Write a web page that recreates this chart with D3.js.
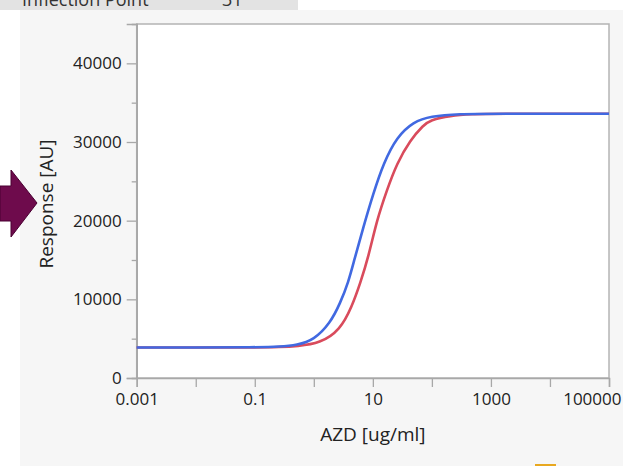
<!DOCTYPE html>
<html><head><meta charset="utf-8">
<script src="https://cdn.jsdelivr.net/npm/d3@7"></script>
<style>body{margin:0;background:#fff;}svg{display:block;font-family:"Open Sans","Noto Sans",sans-serif;}</style>
</head><body>
<svg id="c" width="623" height="466"></svg>
<script>
// Data
const doses = [0.001, 0.01, 0.1, 0.27, 0.52, 1.0, 1.89, 2.79, 3.86, 4.8, 6.93, 10.2, 15.1, 25.5, 48.8, 93.5, 300, 1000, 100000];
const blueResp = [3880, 3880, 3900, 3980, 4190, 4830, 6950, 9490, 12200, 14900, 19220, 23470, 27280, 30660, 32570, 33290, 33580, 33600, 33600];
const redDoses = [0.001, 0.01, 0.1, 0.27, 0.52, 1.28, 2.79, 4.41, 6.10, 8.43, 11.7, 17.3, 25.5, 42.9, 72.1, 93.5, 200, 500, 1000, 100000];
const redResp = [3870, 3870, 3880, 3940, 4040, 4410, 6100, 9060, 12030, 15410, 20080, 23890, 27280, 30240, 32150, 32780, 33350, 33550, 33600, 33600];
const yMajor = [0, 10000, 20000, 30000, 40000];
const yMinor = [5000, 15000, 25000, 35000];
const xTicks = [0.001, 0.01, 0.1, 1, 10, 100, 1000, 10000, 100000];
const xLabels = ["0.001", "", "0.1", "", "10", "", "1000", "", "100000"];

const svg = d3.select("#c");
// background panels
svg.append("rect").attr("x", 0).attr("y", 0).attr("width", 298).attr("height", 10).attr("fill", "#e3e3e3");
svg.append("text").attr("x", 22).attr("y", 6).attr("font-size", 18).attr("fill", "#333").text("Inflection Point");
svg.append("text").attr("x", 222).attr("y", 6).attr("font-size", 18).attr("fill", "#333").text("31");
svg.append("rect").attr("x", 20).attr("y", 10).attr("width", 603).attr("height", 456).attr("fill", "#f6f6f6");

const L = 136.7, R = 609, T = 24, B = 378;
const x = d3.scaleLog().domain([0.001, 100000]).range([L, R]);
const y = d3.scaleLinear().domain([0, 45000]).range([B, T]);

svg.append("rect").attr("x", L).attr("y", T).attr("width", R - L).attr("height", B - T)
  .attr("fill", "#fff").attr("stroke", "#b4b4b4").attr("stroke-width", 1.5);

// y axis
const ya = svg.append("g").attr("transform", `translate(${L},0)`)
  .call(d3.axisLeft(y).tickValues(yMajor).tickSize(10).tickPadding(5).tickFormat(d3.format("d")));
const yb = svg.append("g").attr("transform", `translate(${L},0)`)
  .call(d3.axisLeft(y).tickValues(yMinor).tickSize(5).tickFormat(""));
// x axis
const xa = svg.append("g").attr("transform", `translate(0,${B})`)
  .call(d3.axisBottom(x).tickValues(xTicks).tickSize(9).tickPadding(6).tickFormat((d, i) => xLabels[i]));
[ya, yb, xa].forEach(g => {
  g.select(".domain").attr("stroke", "#a8a8a8").attr("stroke-width", 1.5);
  g.selectAll(".tick line").attr("stroke", "#a8a8a8").attr("stroke-width", 1.3);
  g.selectAll("text").attr("font-size", 17).attr("fill", "#222").attr("font-family", "Open Sans");
});
// keep last x label inside the window
xa.selectAll(".tick").filter(d => d === 100000).select("text").attr("text-anchor", "end").attr("x", 12);

// curves
const line = d3.line().curve(d3.curveBasis);
svg.append("path").attr("d", line(redDoses.map((d, i) => [x(d), y(redResp[i])])))
  .attr("fill", "none").attr("stroke", "#d94b5c").attr("stroke-width", 2.6);
svg.append("path").attr("d", line(doses.map((d, i) => [x(d), y(blueResp[i])])))
  .attr("fill", "none").attr("stroke", "#4169e1").attr("stroke-width", 2.6);

// axis titles
svg.append("text").attr("x", (L + R) / 2).attr("y", 441).attr("text-anchor", "middle")
  .attr("font-size", 19).attr("fill", "#222").text("AZD [ug/ml]");
svg.append("text").attr("transform", `translate(53,${(T + B) / 2 + 3}) rotate(-90)`).attr("text-anchor", "middle")
  .attr("font-size", 19).attr("fill", "#222").text("Response [AU]");

// arrow
svg.append("path").attr("d", "M0,186 L11,186 L11,170 L37,203 L11,237 L11,221 L0,221 Z")
  .attr("fill", "#6e0b4c").attr("stroke", "#4a0032").attr("stroke-width", 1);
// orange mark at bottom
svg.append("rect").attr("x", 535).attr("y", 464).attr("width", 21).attr("height", 2).attr("fill", "#e8a820");
</script>
</body></html>
